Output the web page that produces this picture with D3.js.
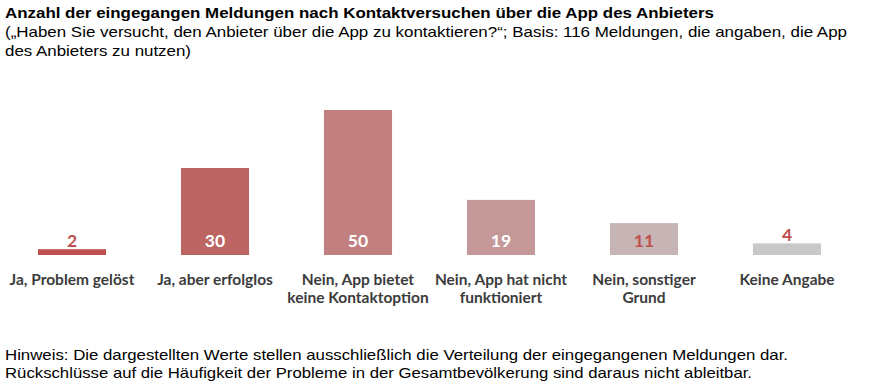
<!DOCTYPE html>
<html>
<head>
<meta charset="utf-8">
<title>Kontaktversuche App</title>
<script src="https://cdnjs.cloudflare.com/ajax/libs/d3/7.8.5/d3.min.js"></script>
<style>
  body { margin: 0; background: #fff; }
  svg { display: block; }
  .head { font-family: "Liberation Sans", Arial, sans-serif; font-size: 15px; fill: #000; }
  .cat { font-family: Lato, "Open Sans", sans-serif; font-weight: 700; font-size: 15.5px; fill: #3c3c3c; }
  .val { font-family: Lato, "Open Sans", sans-serif; font-weight: 700; font-size: 17.5px; }
</style>
</head>
<body>
<svg width="881" height="382"></svg>
<script>
// data
const categories = [
  ["Ja, Problem gelöst"],
  ["Ja, aber erfolglos"],
  ["Nein, App bietet", "keine Kontaktoption"],
  ["Nein, App hat nicht", "funktioniert"],
  ["Nein, sonstiger", "Grund"],
  ["Keine Angabe"]
];
const values = [2, 30, 50, 19, 11, 4];
const barColors = ["#c0504d", "#bd6562", "#c17f7f", "#c49898", "#c7b4b5", "#c8c8c8"];
const labelInside = [false, true, true, true, true, false];
const labelColors = ["#c0504d", "#fff", "#fff", "#fff", "#c0504d", "#c0504d"];

const titleLines = [
  { text: "Anzahl der eingegangen Meldungen nach Kontaktversuchen über die App des Anbieters", y: 18, w: 709, bold: true },
  { text: "(„Haben Sie versucht, den Anbieter über die App zu kontaktieren?“; Basis: 116 Meldungen, die angaben, die App", y: 37, w: 842 },
  { text: "des Anbieters zu nutzen)", y: 56, w: 186 }
];
const noteLines = [
  { text: "Hinweis: Die dargestellten Werte stellen ausschließlich die Verteilung der eingegangenen Meldungen dar.", y: 360, w: 783 },
  { text: "Rückschlüsse auf die Häufigkeit der Probleme in der Gesamtbevölkerung sind daraus nicht ableitbar.", y: 378, w: 747 }
];

const svg = d3.select("svg");

const x = d3.scaleBand()
  .domain(d3.range(values.length))
  .range([0.5, 858.5])
  .paddingInner(0.524)
  .paddingOuter(0.262);

const y = d3.scaleLinear().domain([0, 50]).range([255, 110]);

// header + note
function textBlock(lines) {
  lines.forEach(l => {
    svg.append("text")
      .attr("class", "head")
      .attr("x", 5)
      .attr("y", l.y)
      .attr("font-weight", l.bold ? 700 : 400)
      .attr("textLength", l.w)
      .attr("lengthAdjust", "spacingAndGlyphs")
      .text(l.text);
  });
}
textBlock(titleLines);
textBlock(noteLines);

// bars
svg.selectAll("rect.bar")
  .data(values)
  .enter()
  .append("rect")
  .attr("class", "bar")
  .attr("x", (d, i) => x(i))
  .attr("width", x.bandwidth())
  .attr("y", d => y(d))
  .attr("height", d => y(0) - y(d))
  .style("fill", (d, i) => barColors[i]);

// value labels
svg.selectAll("text.val")
  .data(values)
  .enter()
  .append("text")
  .attr("class", "val")
  .attr("x", (d, i) => x(i) + x.bandwidth() / 2)
  .attr("y", (d, i) => labelInside[i] ? 247 : y(d) - 2)
  .attr("text-anchor", "middle")
  .style("fill", (d, i) => labelColors[i])
  .text(d => d);

// category labels
const cat = svg.selectAll("text.cat")
  .data(categories)
  .enter()
  .append("text")
  .attr("class", "cat")
  .attr("text-anchor", "middle")
  .attr("x", (d, i) => x(i) + x.bandwidth() / 2)
  .attr("y", 285);

cat.selectAll("tspan")
  .data(d => d)
  .enter()
  .append("tspan")
  .attr("x", function () { return d3.select(this.parentNode).attr("x"); })
  .attr("dy", (d, j) => j === 0 ? 0 : 18)
  .text(d => d);
</script>
</body>
</html>
